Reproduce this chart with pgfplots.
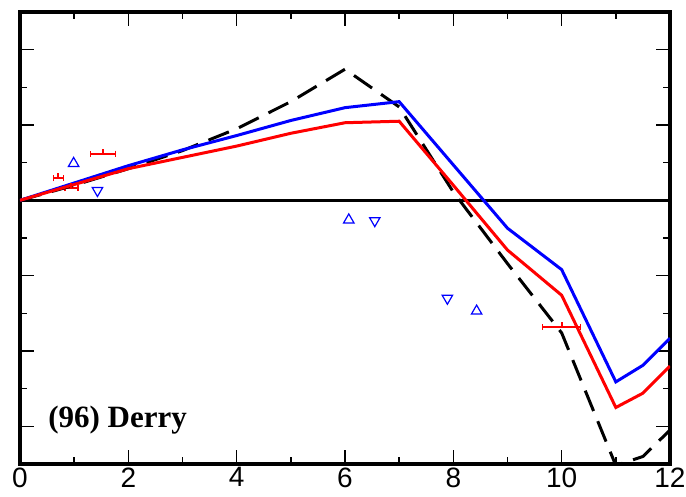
\documentclass[border=0pt]{standalone}
\usepackage{fontspec}
\setmainfont{Liberation Serif}
\newfontfamily\arial{Liberation Sans}
\usepackage{pgfplots}
\pgfplotsset{compat=1.18}
\pgfdeclareplotmark{uptick}{\pgfpathmoveto{\pgfpointorigin}\pgfpathlineto{\pgfqpoint{0pt}{\pgfplotmarksize}}\pgfusepathqstroke}
\begin{document}
\begin{tikzpicture}
\useasboundingbox (-20pt,-33pt) rectangle (666pt,464pt);
\begin{axis}[at={(0,0)}, anchor=south west, scale only axis, width=650pt, height=452pt,
 xmin=0, xmax=12, ymin=-3.5, ymax=2.5,
 xtick={0,2,...,12}, minor xtick={1,3,...,11},
 ytick={-3,...,2}, minor ytick={-3.5,-2.5,...,2.5}, yticklabels={},
 tick align=inside, major tick length=14pt, minor tick length=7pt,
 axis line style={line width=3.2pt},
 every tick/.style={black, line width=1.5pt},
 xticklabel style={font=\fontsize{28}{28}\selectfont\arial},
 /pgf/number format/assume math mode=true,
 clip=true]
\addplot[black, line width=3pt] coordinates {(0,0) (12,0)};
\addplot[red, only marks, line width=2pt, mark=uptick, mark size=5pt,
  error bars/.cd, x dir=both, x explicit, error mark=|,
  error bar style={line width=2pt}, error mark options={mark size=3pt, line width=1.5pt}]
  coordinates {(0.71,0.29) +- (0.09,0) (1.53,0.62) +- (0.23,0) (0.95,0.16) +- (0.12,0) (10.0,-1.68) +- (0.35,0)};
\addplot[black, line width=3pt, dash pattern=on 22pt off 11pt] coordinates {
 (0,0) (1,0.2) (2,0.42) (3,0.66) (4,0.95) (5,1.31) (6,1.74) (7,1.24) (8,0.11) (9,-0.84) (10,-1.76) (11,-3.52) (11.5,-3.4) (12,-3.05)};
\addplot[blue, line width=3pt] coordinates {
 (0,0) (1,0.23) (2,0.46) (3,0.67) (4,0.86) (5,1.06) (6,1.23) (7,1.31) (8,0.47) (9,-0.37) (10,-0.92) (11,-2.41) (11.5,-2.19) (12,-1.83)};
\addplot[red, line width=3pt] coordinates {
 (0,0) (1,0.21) (2,0.42) (3,0.57) (4,0.72) (5,0.89) (6,1.03) (7,1.05) (8,0.2) (9,-0.66) (10,-1.26) (11,-2.75) (11.5,-2.56) (12,-2.2)};
\addplot[blue, only marks, mark=triangle, mark size=6pt, mark options={line width=1.2pt}] coordinates {(0.99,0.49) (6.07,-0.26) (8.43,-1.47)};
\addplot[blue, only marks, mark=triangle, mark size=6pt, mark options={line width=1.2pt, rotate=180}] coordinates {(1.43,0.13) (6.55,-0.27) (7.89,-1.3)};
\node[anchor=base west, font=\fontsize{31}{31}\selectfont\bfseries, inner sep=0pt] at (axis cs:0.52,-3.01) {(96) Derry};
\end{axis}
\end{tikzpicture}
\end{document}
